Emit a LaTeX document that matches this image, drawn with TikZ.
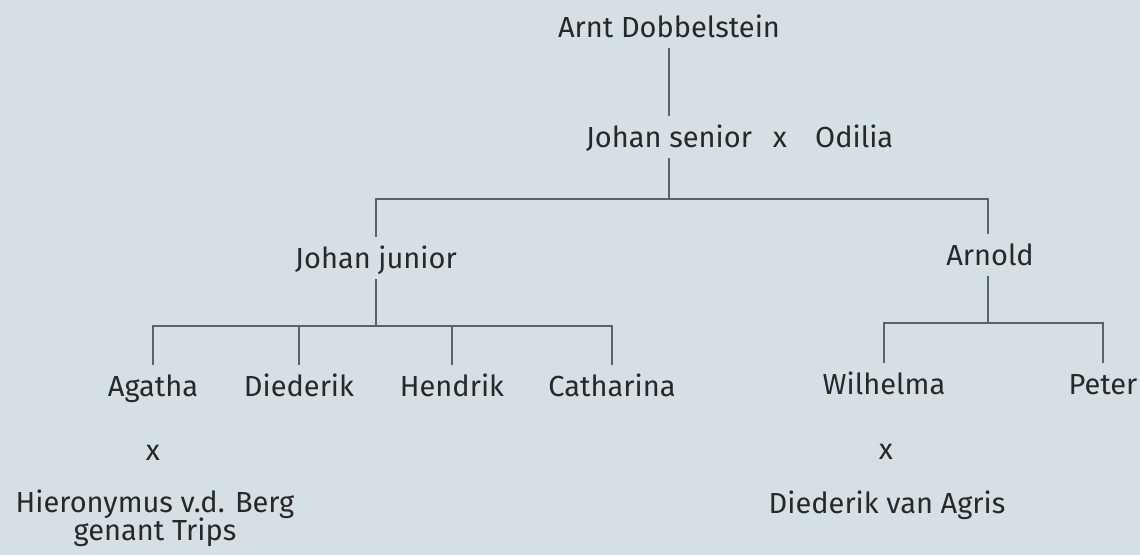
\documentclass[tikz,border=0pt]{standalone}
\usepackage{fontspec}
\setmainfont{Fira Sans}
\definecolor{bgc}{RGB}{213,224,226}
\definecolor{txt}{RGB}{38,40,42}
\definecolor{ln}{RGB}{95,98,100}
\newcommand{\tightlines}{\fontsize{29}{28}\selectfont\lineskiplimit=-20pt\relax}
\begin{document}
\begin{tikzpicture}[x=1pt,y=-1pt,
  every node/.style={font=\fontsize{29}{34}\selectfont, text=txt},
  person/.style={anchor=base, inner xsep=0pt, inner ysep=11pt, text height=20pt, text depth=0pt},
  lbl/.style={anchor=base, inner sep=0pt},
  tree/.style={draw=ln, line width=1.8pt}]
\fill[bgc] (0,0) rectangle (1140,555);
\useasboundingbox (0,0) rectangle (1140,555);
% generation 1
\node[person] (arnt) at (669,37) {Arnt Dobbelstein};
\node[person] (senior) at (669,147) {Johan senior};
\node[lbl] (x1) at (780,147) {x};
\node[lbl, anchor=base west] (odilia) at (815,147) {Odilia};
% generation 2
\node[person] (jj) at (376,268) {Johan junior};
\node[person] (arnold) at (990,265) {Arnold};
% generation 3
\node[person] (agatha) at (153,396) {Agatha};
\node[person] (diederik) at (299,396) {Diederik};
\node[person] (hendrik) at (452,396) {Hendrik};
\node[person] (catharina) at (612,396) {Catharina};
\node[person] (wilhelma) at (884,394) {Wilhelma};
\node[person] (peter) at (1103,394) {Peter};
% spouses
\node[lbl] (x2) at (153,460) {x};
\node[inner sep=0pt, anchor=north, align=center, font=\tightlines] (hier) at (155,490) {Hieronymus v.d. Berg\\genant Trips};
\node[lbl] (x3) at (886,459) {x};
\node[lbl] (agris) at (887,513) {Diederik van Agris};
% connectors
\coordinate (b1) at (669,199);
\coordinate (b2) at (376,326);
\coordinate (b3) at (988,323);
\draw[tree] (arnt.south) -- (senior.north);
\draw[tree] (senior.south) -- (b1);
\draw[tree] (jj.north) |- (b1) -| (arnold.north -| b3);
\draw[tree] (jj.south) -- (b2);
\draw[tree] (agatha.north) |- (b2) -| (catharina.north);
\draw[tree] (diederik.north) -- (diederik.north |- b2);
\draw[tree] (hendrik.north) -- (hendrik.north |- b2);
\draw[tree] (arnold.south -| b3) -- (b3);
\draw[tree] (wilhelma.north) |- (b3) -| (peter.north);
\end{tikzpicture}
\end{document}
